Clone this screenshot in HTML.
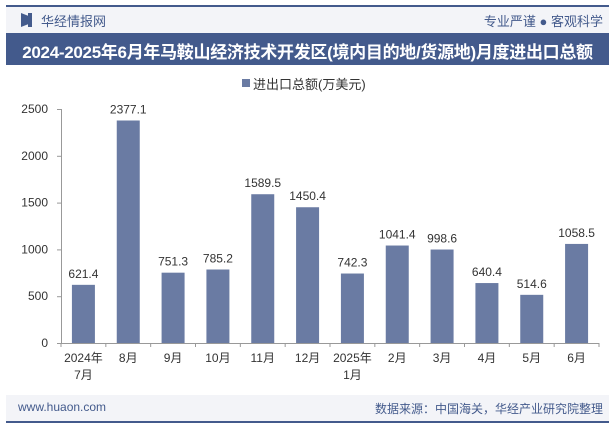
<!DOCTYPE html>
<html><head><meta charset="utf-8"><style>
body{margin:0;width:615px;height:427px;background:#fff;font-family:"Liberation Sans","Noto Sans CJK SC",sans-serif;position:relative;overflow:hidden}
.abs{position:absolute}
</style></head><body>
<div class="abs" style="left:6px;top:5px;width:603px;height:2px;background:#435a8c"></div>
<div class="abs" style="left:6px;top:7px;width:603px;height:26px;background:#f3f4f8"></div>
<div class="abs" style="left:21px;top:13px;width:7px;height:14px;background:#435a8c;clip-path:polygon(0 0,100% 20%,100% 80%,0 100%)"></div>
<div class="abs" style="left:28px;top:13px;width:4px;height:14px;background:#435a8c"></div>
<div class="abs" style="left:41px;top:11px;font-size:13px;color:#435a8c">华经情报网</div>
<div class="abs" style="right:12px;top:11px;font-size:13px;color:#435a8c">专业严谨 ● 客观科学</div>
<div class="abs" style="left:6px;top:33px;width:603px;height:32px;background:#435a8c"></div>
<div class="abs" style="left:6px;top:38px;width:603px;text-align:center;font-size:17px;font-weight:bold;color:#fff;white-space:nowrap;letter-spacing:-0.3px">2024-2025年6月年马鞍山经济技术开发区(境内目的地/货源地)月度进出口总额</div>
<div class="abs" style="left:242px;top:79px;width:8px;height:8px;background:#6a7ba3"></div>
<div class="abs" style="left:253px;top:74px;font-size:13px;color:#333">进出口总额(万美元)</div>
<svg class="abs" style="left:0;top:0" width="615" height="427" id="chart"></svg>
<div class="abs" style="left:6px;top:395px;width:603px;height:26px;background:#f3f4f8"></div>
<div class="abs" style="left:6px;top:421px;width:603px;height:2px;background:#435a8c"></div>
<div class="abs" style="left:18px;top:400px;font-size:12px;color:#435a8c">www.huaon.com</div>
<div class="abs" style="right:12px;top:400px;font-size:12px;color:#435a8c">数据来源：中国海关，华经产业研究院整理</div>
<script>
const categories=["2024年\n7月","8月","9月","10月","11月","12月","2025年\n1月","2月","3月","4月","5月","6月"];
const values=[621.4,2377.1,751.3,785.2,1589.5,1450.4,742.3,1041.4,998.6,640.4,514.6,1058.5];
const ticks=[0,500,1000,1500,2000,2500];
const svg=document.getElementById('chart');const NS='http://www.w3.org/2000/svg';
const x0=61,x1=599,y0=343,yTop=109,ymax=2500;
const bw=(x1-x0)/categories.length;
const yS=v=>y0-(v/ymax)*(y0-yTop);
function mk(t,a,txt){const e=document.createElementNS(NS,t);for(const k in a)e.setAttribute(k,a[k]);if(txt!=null)e.textContent=txt;svg.appendChild(e);return e;}
ticks.forEach(t=>{
const l=mk('text',{x:48,y:yS(t)+4,'text-anchor':'end','font-size':12,fill:'#333'},t);


mk('line',{x1:x0-4,y1:yS(t)+0.5,x2:x0,y2:yS(t)+0.5,stroke:'#999'});
});
const ax=mk('line',{x1:x0,y1:y0+0.5,x2:x1,y2:y0+0.5,stroke:'#999'});


const ay=mk('line',{x1:x0+0.5,y1:yTop,x2:x0+0.5,y2:y0,stroke:'#999'});


for(let i=0;i<=categories.length;i++){mk('line',{x1:x0+i*bw,y1:y0,x2:x0+i*bw,y2:y0+4,stroke:'#999'});}
categories.forEach((c,i)=>{
const cx=x0+bw*(i+0.5),v=values[i];
const r=mk('rect',{x:cx-11.5,y:yS(v),width:23,height:y0-yS(v),fill:'#6a7ba3'});


const vl=mk('text',{x:cx,y:yS(v)-7,'text-anchor':'middle','font-size':12,fill:'#333'},v.toFixed(1));


c.split('\n').forEach((ln,j)=>{
const t=mk('text',{x:cx,y:y0+19+j*17,'text-anchor':'middle','font-size':12,fill:'#333'},ln);


});
});
</script>
</body></html>
